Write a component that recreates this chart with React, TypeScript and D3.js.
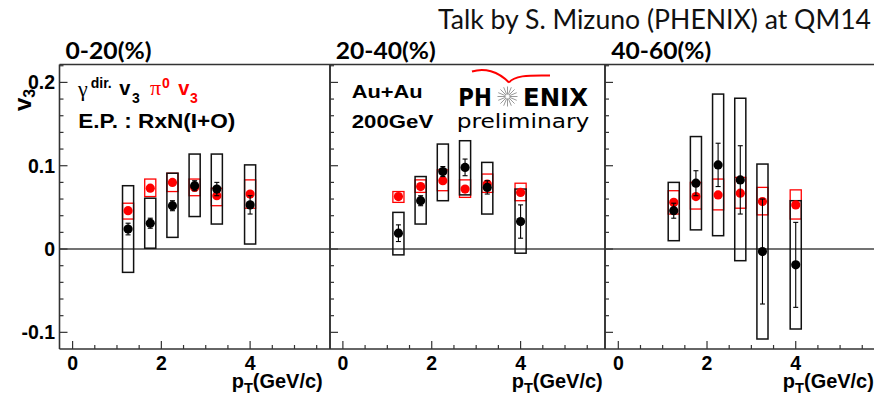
import React from "react";
import * as d3 from "d3";

const W = 874;
const H = 394;

const centralityLabels = ["0-20(%)", "20-40(%)", "40-60(%)"];
const ptBins = [1.25, 1.75, 2.25, 2.75, 3.25, 4.0];
const xTickValues = [0, 2, 4];
const xTickLabels = ["0", "2", "4"];
const yTickValues = [0.2, 0.1, 0, -0.1];
const yTickLabels = ["0.2", "0.1", "0", "-0.1"];

// 0-20 %
const gamma_0_20 = [0.024, 0.031, 0.052, 0.076, 0.072, 0.053];
const gammaStat_0_20 = [0.007, 0.006, 0.006, 0.006, 0.008, 0.011];
const gammaSysLo_0_20 = [-0.028, 0.001, 0.014, 0.039, 0.03, 0.006];
const gammaSysHi_0_20 = [0.076, 0.061, 0.091, 0.114, 0.114, 0.101];
const pi0_0_20 = [0.046, 0.073, 0.08, 0.074, 0.064, 0.066];
const pi0SysLo_0_20 = [0.036, 0.063, 0.069, 0.064, 0.052, 0.049];
const pi0SysHi_0_20 = [0.055, 0.084, 0.091, 0.084, 0.073, 0.083];

// 20-40 %
const gamma_20_40 = [0.019, 0.058, 0.093, 0.098, 0.074, 0.033];
const gammaStat_20_40 = [0.01, 0.006, 0.006, 0.01, 0.008, 0.02];
const gammaSysLo_20_40 = [-0.007, 0.03, 0.058, 0.065, 0.042, -0.005];
const gammaSysHi_20_40 = [0.044, 0.087, 0.126, 0.13, 0.104, 0.072];
const pi0_20_40 = [0.063, 0.075, 0.082, 0.072, 0.078, 0.068];
const pi0SysLo_20_40 = [0.056, 0.068, 0.07, 0.062, 0.068, 0.058];
const pi0SysHi_20_40 = [0.069, 0.083, 0.095, 0.083, 0.09, 0.079];

// 40-60 %
const gamma_40_60 = [0.046, 0.079, 0.101, 0.083, -0.003, -0.019];
const gammaStat_40_60 = [0.009, 0.015, 0.026, 0.041, 0.063, 0.051];
const gammaSysLo_40_60 = [0.01, 0.023, 0.016, -0.014, -0.108, -0.096];
const gammaSysHi_40_60 = [0.08, 0.135, 0.186, 0.181, 0.102, 0.058];
const pi0_40_60 = [0.056, 0.063, 0.065, 0.067, 0.057, 0.053];
const pi0SysLo_40_60 = [0.042, 0.048, 0.047, 0.049, 0.041, 0.036];
const pi0SysHi_40_60 = [0.07, 0.08, 0.084, 0.086, 0.074, 0.071];

const panelData = [
  { gamma: gamma_0_20, stat: gammaStat_0_20, sLo: gammaSysLo_0_20, sHi: gammaSysHi_0_20, pi0: pi0_0_20, pLo: pi0SysLo_0_20, pHi: pi0SysHi_0_20 },
  { gamma: gamma_20_40, stat: gammaStat_20_40, sLo: gammaSysLo_20_40, sHi: gammaSysHi_20_40, pi0: pi0_20_40, pLo: pi0SysLo_20_40, pHi: pi0SysHi_20_40 },
  { gamma: gamma_40_60, stat: gammaStat_40_60, sLo: gammaSysLo_40_60, sHi: gammaSysHi_40_60, pi0: pi0_40_60, pLo: pi0SysLo_40_60, pHi: pi0SysHi_40_60 },
];

// layout
const panelRanges: [number, number][] = [[59.5, 330], [330, 605], [605, 880]];
const panelDomains: [number, number][] = [[-0.295, 5.8], [-0.29, 5.9], [-0.3, 5.9]];
const xTitleStart = [3.585, 3.8, 3.71];
const plotTop = 64.5;
const plotBottom = 349;
const yScale = d3.scaleLinear().domain([-0.12, 0.2215]).range([plotBottom, plotTop]);

const boxHalf = 0.125;
const frameColor = "#333";
const RED = "#ff0000";
const HELV = "'Liberation Sans', Arial, sans-serif";

function Panel({ idx }: { idx: number }) {
  const [x0, x1] = panelRanges[idx];
  const xScale = d3.scaleLinear().domain(panelDomains[idx]).range([x0, x1]);
  const d = panelData[idx];
  const minorX = d3.range(0, 12).map((i) => i * 0.5);
  const minorY = d3.range(-5, 12).map((i) => i * 0.02);
  const zeroY = yScale(0);
  return (
    <g>
      <line x1={x0} x2={x1} y1={zeroY} y2={zeroY} stroke="#444" strokeWidth={1.5} />
      {minorX.map((v, i) => {
        const major = Math.abs(v % 2) < 1e-9;
        const x = xScale(v);
        return <line key={"xt" + i} x1={x} x2={x} y1={plotBottom} y2={plotBottom - (major ? 8 : 4)} stroke={frameColor} strokeWidth={1.2} />;
      })}
      {minorY.map((v, i) => {
        const major = Math.abs(Math.round(v * 100) % 10) === 0;
        const y = yScale(v);
        return <line key={"yt" + i} x1={x0} x2={x0 + (major ? 8 : 4)} y1={y} y2={y} stroke={frameColor} strokeWidth={1.2} />;
      })}
      {ptBins.map((pt, i) => (
        <rect key={"pb" + i} x={xScale(pt - boxHalf)} y={yScale(d.pHi[i])} width={xScale(pt + boxHalf) - xScale(pt - boxHalf)} height={yScale(d.pLo[i]) - yScale(d.pHi[i])} fill="none" stroke={RED} strokeWidth={1.3} />
      ))}
      {ptBins.map((pt, i) => (
        <rect key={"gb" + i} x={xScale(pt - boxHalf)} y={yScale(d.sHi[i])} width={xScale(pt + boxHalf) - xScale(pt - boxHalf)} height={yScale(d.sLo[i]) - yScale(d.sHi[i])} fill="none" stroke="#111" strokeWidth={1.5} />
      ))}
      {ptBins.map((pt, i) => (
        <circle key={"pp" + i} cx={xScale(pt)} cy={yScale(d.pi0[i])} r={4.6} fill={RED} />
      ))}
      {ptBins.map((pt, i) => {
        const x = xScale(pt);
        const yt = yScale(d.gamma[i] + d.stat[i]);
        const yb = yScale(d.gamma[i] - d.stat[i]);
        return (
          <g key={"gp" + i}>
            <line x1={x} x2={x} y1={yt} y2={yb} stroke="#000" strokeWidth={1.1} />
            <line x1={x - 2.5} x2={x + 2.5} y1={yt} y2={yt} stroke="#000" strokeWidth={1.1} />
            <line x1={x - 2.5} x2={x + 2.5} y1={yb} y2={yb} stroke="#000" strokeWidth={1.1} />
            <circle cx={x} cy={yScale(d.gamma[i])} r={4.6} fill="#000" />
          </g>
        );
      })}
      <line x1={x0} x2={x0} y1={plotTop} y2={plotBottom} stroke={frameColor} strokeWidth={1.6} />
      <line x1={x1} x2={x1} y1={plotTop} y2={plotBottom} stroke={frameColor} strokeWidth={1.6} />
      <line x1={x0} x2={x1} y1={plotTop} y2={plotTop} stroke={frameColor} strokeWidth={1.6} />
      <line x1={x0} x2={x1} y1={plotBottom} y2={plotBottom} stroke={frameColor} strokeWidth={1.6} />
      <text x={xScale(-0.16)} y={59.3} fontFamily="Lato, 'Open Sans', sans-serif" fontWeight={700} fontSize={22} textLength={idx === 0 ? 86 : 100} lengthAdjust="spacingAndGlyphs" fill="#000">
        {centralityLabels[idx]}
      </text>
      {idx === 0 &&
        yTickValues.map((v, i) => (
          <text key={"yl" + i} x={55} y={yScale(v) + 6.8} textAnchor="end" fontFamily={HELV} fontWeight={700} fontSize={19.5} fill="#000">
            {yTickLabels[i]}
          </text>
        ))}
      {xTickValues.map((v, i) => (
        <text key={"xl" + i} x={xScale(v)} y={370} textAnchor="middle" fontFamily={HELV} fontWeight={700} fontSize={19.5} fill="#000">
          {xTickLabels[i]}
        </text>
      ))}
      <text x={xScale(xTitleStart[idx])} y={387.5} fontFamily={HELV} fontWeight={700} fontSize={20.5} textLength={91} lengthAdjust="spacingAndGlyphs" fill="#000">
        <tspan>p</tspan>
        <tspan fontSize={15} dy={5}>T</tspan>
        <tspan dy={-5}>(GeV/c)</tspan>
      </text>
    </g>
  );
}

function PhenixLogo() {
  const cx = 507.5;
  const cy = 96.5;
  const spokes = d3.range(0, 16).map((i) => (i * Math.PI) / 8);
  return (
    <g>
      <path d="M472,71.5 C484,67.5 498,71 509,82.5" fill="none" stroke={RED} strokeWidth={2} />
      <path d="M509,82.5 C514,76 526,75 550,75.5" fill="none" stroke={RED} strokeWidth={2} />
      {spokes.map((a, i) => (
        <line key={i} x1={cx + Math.cos(a) * 2} y1={cy + Math.sin(a) * 2} x2={cx + Math.cos(a) * 10} y2={cy + Math.sin(a) * 10} stroke="#999" strokeWidth={1} />
      ))}
      <text x={458.3} y={106} fontFamily="'DejaVu Sans', Verdana, sans-serif" fontWeight={700} fontSize={24} textLength={33.4} lengthAdjust="spacingAndGlyphs" fill="#000">PH</text>
      <text x={523} y={106} fontFamily="'DejaVu Sans', Verdana, sans-serif" fontWeight={700} fontSize={24} textLength={65} lengthAdjust="spacingAndGlyphs" fill="#000">ENIX</text>
      <text x={456.7} y={128} fontFamily="'DejaVu Sans', Verdana, sans-serif" fontSize={20} textLength={132.6} lengthAdjust="spacingAndGlyphs" fill="#000">preliminary</text>
    </g>
  );
}

export default function App() {
  return (
    <svg width={W} height={H} viewBox={`0 0 ${W} ${H}`} style={{ position: "absolute", left: 0, top: 0, background: "#fff" }}>
      <rect x={0} y={0} width={W} height={H} fill="#fff" />
      <text x={438} y={28.5} fontFamily="Lato, 'Open Sans', sans-serif" fontSize={26} textLength={433} lengthAdjust="spacingAndGlyphs" fill="#111">
        Talk by S. Mizuno (PHENIX) at QM14
      </text>
      {[0, 1, 2].map((i) => (
        <Panel key={i} idx={i} />
      ))}
      <text transform="translate(31,111) rotate(-90)" fontFamily={HELV} fontWeight={700} fontSize={24} fill="#000">
        <tspan>v</tspan>
        <tspan fontSize={16} dy={4}>3</tspan>
      </text>
      <text x={78} y={96} fontFamily="'Liberation Serif', serif" fontSize={22} fill="#000">γ</text>
      <text x={90.7} y={88.3} fontFamily={HELV} fontWeight={700} fontSize={14} fill="#000">dir.</text>
      <text x={119.3} y={95} fontFamily={HELV} fontWeight={700} fontSize={20} fill="#000">v</text>
      <text x={132} y={103} fontFamily={HELV} fontWeight={700} fontSize={14} fill="#000">3</text>
      <text x={150} y={95} fontFamily="'Liberation Serif', serif" fontSize={22} fill={RED}>π</text>
      <text x={162} y={88} fontFamily={HELV} fontWeight={700} fontSize={14} fill={RED}>0</text>
      <text x={178.3} y={95} fontFamily={HELV} fontWeight={700} fontSize={20} fill={RED}>v</text>
      <text x={190} y={103} fontFamily={HELV} fontWeight={700} fontSize={14} fill={RED}>3</text>
      <text x={78.3} y={128.3} fontFamily={HELV} fontWeight={700} fontSize={20} textLength={157} lengthAdjust="spacingAndGlyphs" fill="#000">E.P. : RxN(I+O)</text>
      <text x={351.7} y={98.3} fontFamily={HELV} fontWeight={700} fontSize={19} textLength={71} lengthAdjust="spacingAndGlyphs" fill="#000">Au+Au</text>
      <text x={351.7} y={128.3} fontFamily={HELV} fontWeight={700} fontSize={19} textLength={81.6} lengthAdjust="spacingAndGlyphs" fill="#000">200GeV</text>
      <PhenixLogo />
    </svg>
  );
}
